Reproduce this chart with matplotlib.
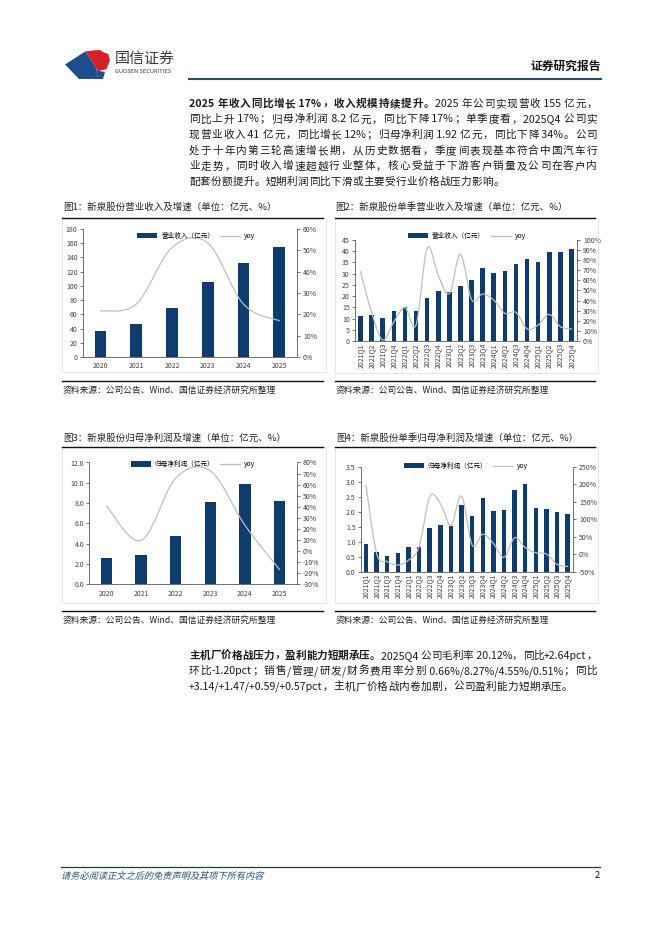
import numpy as np
import matplotlib.pyplot as plt
from matplotlib.patches import Rectangle, Polygon, PathPatch
from matplotlib.lines import Line2D
from matplotlib.textpath import TextPath
from matplotlib.font_manager import FontProperties
from matplotlib.transforms import Affine2D, IdentityTransform

plt.rcParams['font.family'] = ['Noto Sans CJK SC', 'DejaVu Sans']

# ---- data ----
years = ['2020', '2021', '2022', '2023', '2024', '2025']
quarters = ['2021Q1', '2021Q2', '2021Q3', '2021Q4', '2022Q1', '2022Q2', '2022Q3', '2022Q4',
            '2023Q1', '2023Q2', '2023Q3', '2023Q4', '2024Q1', '2024Q2', '2024Q3', '2024Q4',
            '2025Q1', '2025Q2', '2025Q3', '2025Q4']

rev_year = [36.8, 46.9, 69.5, 105.7, 132.6, 155.0]
rev_year_yoy = [21.6, 24.8, 51.3, 53.5, 24.8, 17.0]

rev_q = [11.1, 11.6, 10.1, 13.5, 15.0, 13.4, 19.0, 22.3, 21.8, 24.5,
         27.0, 32.7, 30.4, 31.2, 34.5, 36.7, 35.2, 39.5, 39.7, 41.0]
rev_q_yoy = [68.6, 28.0, 1.0, 19.0, 33.0, 16.0, 92.0, 65.0, 47.0, 86.0,
             41.0, 46.5, 40.6, 27.4, 28.4, 11.9, 15.8, 26.4, 14.2, 11.9]

profit_year = [2.55, 2.86, 4.74, 8.06, 9.87, 8.2]
profit_year_yoy = [40.7, 9.5, 65.8, 72.5, 23.5, -16.6]

profit_q = [0.94, 0.66, 0.54, 0.62, 0.81, 0.82, 1.46, 1.56, 1.52, 2.24,
            1.86, 2.46, 2.02, 2.06, 2.74, 2.92, 2.13, 2.09, 2.00, 1.92]
profit_q_yoy = [197, 2, -21, -31, -17, 21, 164, 145, 83, 166,
                26, 57, 31, -9, 47, 19, 4, 0.5, -29, -35]

para1 = [
    [("2025 年收入同比增长 17%，收入规模持续提升。", 'bold'), ("2025 年公司实现营收 155 亿元，", 'normal')],
    [("同比上升 17%；归母净利润 8.2 亿元，同比下降 17%；单季度看，2025Q4 公司实", 'normal')],
    [("现营业收入 41 亿元，同比增长 12%；归母净利润 1.92 亿元，同比下降 34%。公司", 'normal')],
    [("处于十年内第三轮高速增长期，从历史数据看，季度间表现基本符合中国汽车行", 'normal')],
    [("业走势，同时收入增速超越行业整体，核心受益于下游客户销量及公司在客户内", 'normal')],
    [("配套份额提升。短期利润同比下滑或主要受行业价格战压力影响。", 'normal')],
]
para2 = [
    [("主机厂价格战压力，盈利能力短期承压。", 'bold'), ("2025Q4 公司毛利率 20.12%，同比+2.64pct，", 'normal')],
    [("环比-1.20pct；销售/管理/研发/财务费用率分别 0.66%/8.27%/4.55%/0.51%；同比", 'normal')],
    [("+3.14/+1.47/+0.59/+0.57pct，主机厂价格战内卷加剧，公司盈利能力短期承压。", 'normal')],
]

source = "资料来源：公司公告、Wind、国信证券经济研究所整理"

NAVY = '#0E3C6E'
GRAY = '#BFBFBF'
TXT = '#1a1a1a'
BODY = 7.65

W, H = 662, 936
fig = plt.figure(figsize=(W / 100, H / 100), dpi=100)
renderer = fig.canvas.get_renderer()


def fy(y):
    return 1 - y / H


def put(x, y, s, size, **kw):
    kw.setdefault('va', 'center')
    kw.setdefault('color', TXT)
    return fig.text(x / W, fy(y), s, fontsize=size, **kw)


def hline(x0, x1, y, lw, color):
    fig.add_artist(Line2D([x0 / W, x1 / W], [fy(y), fy(y)], lw=lw, color=color))


def poly(pts, color):
    fig.add_artist(Polygon([(x / W, fy(y)) for x, y in pts], closed=True, color=color, lw=0))


def tokens(s):
    out, buf = [], ''
    for ch in s:
        if ord(ch) < 128:
            buf += ch
        else:
            if buf:
                out.append(buf)
                buf = ''
            out.append(ch)
    if buf:
        out.append(buf)
    return out


def text_line(x0, x1, y, segs, size, justify=True):
    # y is the visual middle of the line; glyphs share one baseline
    base = y + 0.36 * size * 100 / 72
    items = []
    for s, w in segs:
        for tk in tokens(s):
            items.append(put(0, base, tk, size, fontweight=w, ha='left', va='baseline'))
    widths = [t.get_window_extent(renderer).width for t in items]
    gap = (x1 - x0 - sum(widths)) / (len(items) - 1) if justify else 0.25
    x = x0
    for t, w in zip(items, widths):
        t.set_x(x / W)
        x += w + gap


def smooth(y, n=16):
    # bezier smoothing like the office "smoothed line" option
    y = np.asarray(y, float)
    p = np.column_stack([np.arange(len(y), dtype=float), y])
    pp = np.vstack([p[0], p, p[-1]])
    t = np.linspace(0, 1, n)[:, None]
    out = []
    for i in range(len(p) - 1):
        p0, p1, p2, p3 = pp[i], pp[i + 1], pp[i + 2], pp[i + 3]
        c1 = p1 + (p2 - p0) / 6
        c2 = p2 - (p3 - p1) / 6
        seg = (1 - t) ** 3 * p1 + 3 * (1 - t) ** 2 * t * c1 + 3 * (1 - t) * t ** 2 * c2 + t ** 3 * p2
        out.append(seg if i == 0 else seg[1:])
    out = np.vstack(out)
    return out[:, 0], out[:, 1]


def chart(rect, cats, bars, yoy, name, ylim, ystep, yfmt, y2lim, y2step, leg_xy,
          bw=0.33, rotate=False, xpad=3.5):
    l, t, r, b = rect
    ax = fig.add_axes([l / W, fy(b), (r - l) / W, (b - t) / H])
    x = np.arange(len(cats))
    ax.bar(x, bars, width=bw, color=NAVY, label=name, zorder=2)
    ax.set_xlim(-0.5, len(cats) - 0.5)
    ax.set_ylim(*ylim)
    ax.set_yticks(np.arange(ylim[0], ylim[1] + ystep / 2, ystep))
    ax.set_yticklabels([yfmt % v for v in ax.get_yticks()])
    ax.set_xticks(x)
    ax.set_xticklabels(cats, rotation=90 if rotate else 0)
    ax.tick_params(axis='y', direction='out', length=2.5, width=0.5, labelsize=5, pad=1.2,
                   colors='#404040')
    ax.tick_params(axis='x', length=0, labelsize=5, pad=xpad, colors='#404040')
    for s in ['left', 'bottom']:
        ax.spines[s].set_linewidth(0.6)
        ax.spines[s].set_color('#595959')
    for s in ['top', 'right']:
        ax.spines[s].set_visible(False)

    ax2 = ax.twinx()
    sx, sy = smooth(yoy)
    ax2.plot(sx, sy, color=GRAY, lw=0.9, label='yoy')
    ax2.set_ylim(*y2lim)
    ax2.set_yticks(np.arange(y2lim[0], y2lim[1] + y2step / 2, y2step))
    ax2.set_yticklabels(['%d%%' % v for v in ax2.get_yticks()])
    ax2.tick_params(axis='y', direction='out', length=2.5, width=0.5, labelsize=5, pad=1.8,
                    colors='#404040')
    for s in ['left', 'bottom', 'top']:
        ax2.spines[s].set_visible(False)
    ax2.spines['right'].set_linewidth(0.6)
    ax2.spines['right'].set_color('#595959')

    h1, l1 = ax.get_legend_handles_labels()
    h2, l2 = ax2.get_legend_handles_labels()
    ax2.legend(h1 + h2, l1 + l2, loc='center', bbox_to_anchor=leg_xy, ncol=2, frameon=False,
               fontsize=4.8, handlelength=3.0, handleheight=0.8, handletextpad=0.6,
               columnspacing=0.9, borderaxespad=0, borderpad=0)
    return ax


# ---- header ----
poly([(65, 64.5), (85.5, 51.3), (90, 58), (96, 68), (98, 79), (79, 79)], '#1D4F8C')
poly([(96, 68), (99, 71), (105, 72), (103, 79), (98, 79)], '#1D4F8C')
poly([(85.5, 51.3), (93, 50.5), (100, 50), (104, 52.5), (108.3, 54), (110, 60.5),
      (106.5, 69), (99, 71), (96, 68), (90, 58)], '#D7212A')
put(114.5, 58.5, "国信证券", 10.8, color='#3a3a3a', ha='left')
put(115, 71.5, "GUOSEN SECURITIES", 4.1, color='#3a3a3a', ha='left')
hline(189, 601, 78.5, 1.5, '#1F4E79')
put(601, 66, "证券研究报告", 8.5, fontweight='bold', ha='right', color='#111111')

# ---- paragraph 1 ----
for i, segs in enumerate(para1):
    text_line(189, 597, 103 + i * 15.65, segs, BODY, justify=(i < len(para1) - 1))

# ---- figure captions and frames ----
captions = [(63, 207, "图1：新泉股份营业收入及增速（单位：亿元、%）"),
            (335, 207, "图2：新泉股份单季营业收入及增速（单位：亿元、%）"),
            (63, 438, "图3：新泉股份归母净利润及增速（单位：亿元、%）"),
            (336, 438, "图4：新泉股份单季归母净利润及增速（单位：亿元、%）")]
for x, y, s in captions:
    put(x, y, s, 6.8, ha='left', color='#222222')

for x0, x1, top, bot, src_y in [(62, 326, 218, 372, 390), (335, 598, 218, 373, 390),
                                (62, 326, 447, 603, 620), (335, 598, 447, 603, 620)]:
    fig.add_artist(Rectangle((x0 / W, fy(bot)), (x1 - x0) / W, (bot - top) / H, fill=False,
                             edgecolor='#E3E3E3', lw=0.6))
    hline(x0, x1 - 3, top, 1.0, '#111111')
    hline(x0, x1 - 3, src_y - 9, 1.0, '#111111')
    put(x0 + 1, src_y, source, 6.3, ha='left', color='#222222')

# ---- charts ----
chart((82.7, 229, 297, 357), years, rev_year, rev_year_yoy, "营业收入（亿元）",
      (0, 180), 20, '%d', (0, 60), 10, (0.53, 0.945), bw=0.33, xpad=3.8)
chart((355, 240, 577, 341), quarters, rev_q, rev_q_yoy, "营业收入（亿元）",
      (0, 45), 5, '%d', (0, 100), 10, (0.505, 1.04), bw=0.42, rotate=True, xpad=1.5)
chart((89.3, 462.5, 296.7, 584.3), years, profit_year, profit_year_yoy, "归母净利润（亿元）",
      (0, 12), 2, '%.1f', (-30, 80), 10, (0.50, 0.985), bw=0.33, xpad=4.2)
chart((360.7, 466.7, 573, 571.7), quarters, profit_q, profit_q_yoy, "归母净利润（亿元）",
      (0, 3.5), 0.5, '%.1f', (-50, 250), 50, (0.496, 1.005), bw=0.42, rotate=True, xpad=1.5)

# ---- paragraph 2 ----
for i, segs in enumerate(para2):
    text_line(189, 597, 655 + i * 15.4, segs, BODY, justify=(i < len(para2) - 1))

# ---- footer ----
hline(61, 600, 866.6, 0.9, '#1F3864')
foot = TextPath((0, 0), "请务必阅读正文之后的免责声明及其项下所有内容", size=9.2,
                prop=FontProperties(family='Noto Sans CJK SC'))
fig.add_artist(PathPatch(foot, lw=0, color='#1F4E79',
                         transform=Affine2D().skew_deg(14, 0).translate(61, H - 879)
                         + IdentityTransform()))
put(600, 875.5, "2", 6.7, ha='right', color='#111111')

fig.savefig('out.png', dpi=100)
